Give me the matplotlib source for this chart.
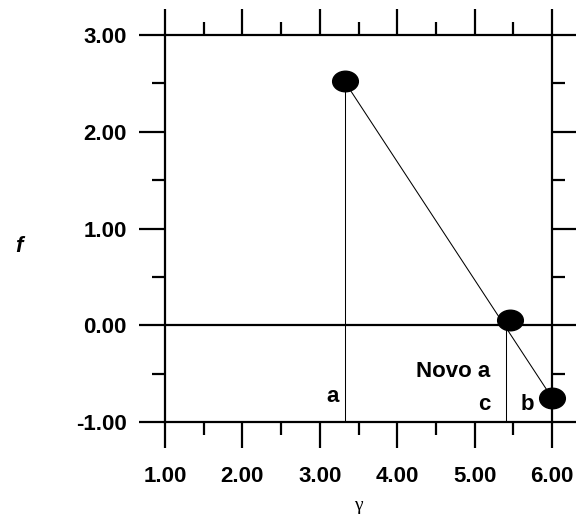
#!/usr/bin/env python3
"""Secant / false-position sketch: f versus gamma."""
import matplotlib
matplotlib.use("Agg")
import matplotlib.pyplot as plt
from matplotlib.path import Path
from matplotlib.ticker import MultipleLocator

# points
a_x, a_f = 3.32, 2.52
b_x, b_f = 6.00, -0.75
c_x = 5.40
pts_x = [a_x, 5.46, b_x]
pts_f = [a_f, 0.05, b_f]

x_ticks = [1.0, 2.0, 3.0, 4.0, 5.0, 6.0]
y_ticks = [-1.0, 0.0, 1.0, 2.0, 3.0]

# labels: (text, x, y, va)
notes = [
    ("a", 3.16, -0.796, "baseline"),
    ("c", 5.12, -0.879, "baseline"),
    ("b", 5.68, -0.879, "baseline"),
    ("Novo a", 4.72, -0.534, "baseline"),
]

plt.rcParams["font.family"] = ["Liberation Sans", "DejaVu Sans"]

fig = plt.figure(figsize=(5.76, 5.15), dpi=100)
ax = fig.add_axes([165 / 576, 1 - 422 / 515, 387 / 576, 387 / 515])
ax.set_xlim(1.0, 6.0)
ax.set_ylim(-1.0, 3.0)

lw_frame = 1.6
for s in ax.spines.values():
    s.set_linewidth(lw_frame)

ax.xaxis.set_major_locator(MultipleLocator(1.0))
ax.xaxis.set_minor_locator(MultipleLocator(0.5))
ax.yaxis.set_major_locator(MultipleLocator(1.0))
ax.yaxis.set_minor_locator(MultipleLocator(0.5))
ax.set_xticks(x_ticks)
ax.set_yticks(y_ticks)
ax.set_xticklabels([f"{v:.2f}" for v in x_ticks])
ax.set_yticklabels([f"{v:.2f}" for v in y_ticks])

ax.tick_params(which="both", direction="out", top=True, right=True,
               width=lw_frame, labelsize=16)
ax.tick_params(which="major", length=18.7)
ax.tick_params(which="minor", length=9.4)
ax.tick_params(axis="x", pad=13)
ax.tick_params(axis="y", pad=9)
for lab in ax.get_xticklabels() + ax.get_yticklabels():
    lab.set_fontweight("bold")

# zero line
ax.axhline(0.0, color="black", lw=lw_frame, zorder=2)

# thin construction lines
ax.plot([a_x, b_x], [a_f, b_f], color="black", lw=0.75, zorder=3)
ax.plot([a_x, a_x], [-1.0, a_f], color="black", lw=0.75, zorder=3)
ax.plot([c_x, c_x], [-1.0, 0.0], color="black", lw=0.75, zorder=3)

# oval markers
circ = Path.unit_circle()
oval = Path(circ.vertices * [1.25, 1.0], circ.codes)
ax.plot(pts_x, pts_f, linestyle="none", marker=oval, markersize=18.5,
        color="black", zorder=5, clip_on=False)

for txt, x, y, va in notes:
    ax.text(x, y, txt, ha="center", va=va, fontsize=16, fontweight="bold")

fig.text(358.5 / 576, 1 - 506 / 515, "\u03b3", ha="center", va="center",
         fontsize=14, family=["Liberation Serif", "DejaVu Serif"])
fig.text(19 / 576, 1 - 246 / 515, "f", ha="center", va="center",
         fontsize=16, fontweight="bold", fontstyle="italic")

fig.savefig("out.png", dpi=100, facecolor="white")
